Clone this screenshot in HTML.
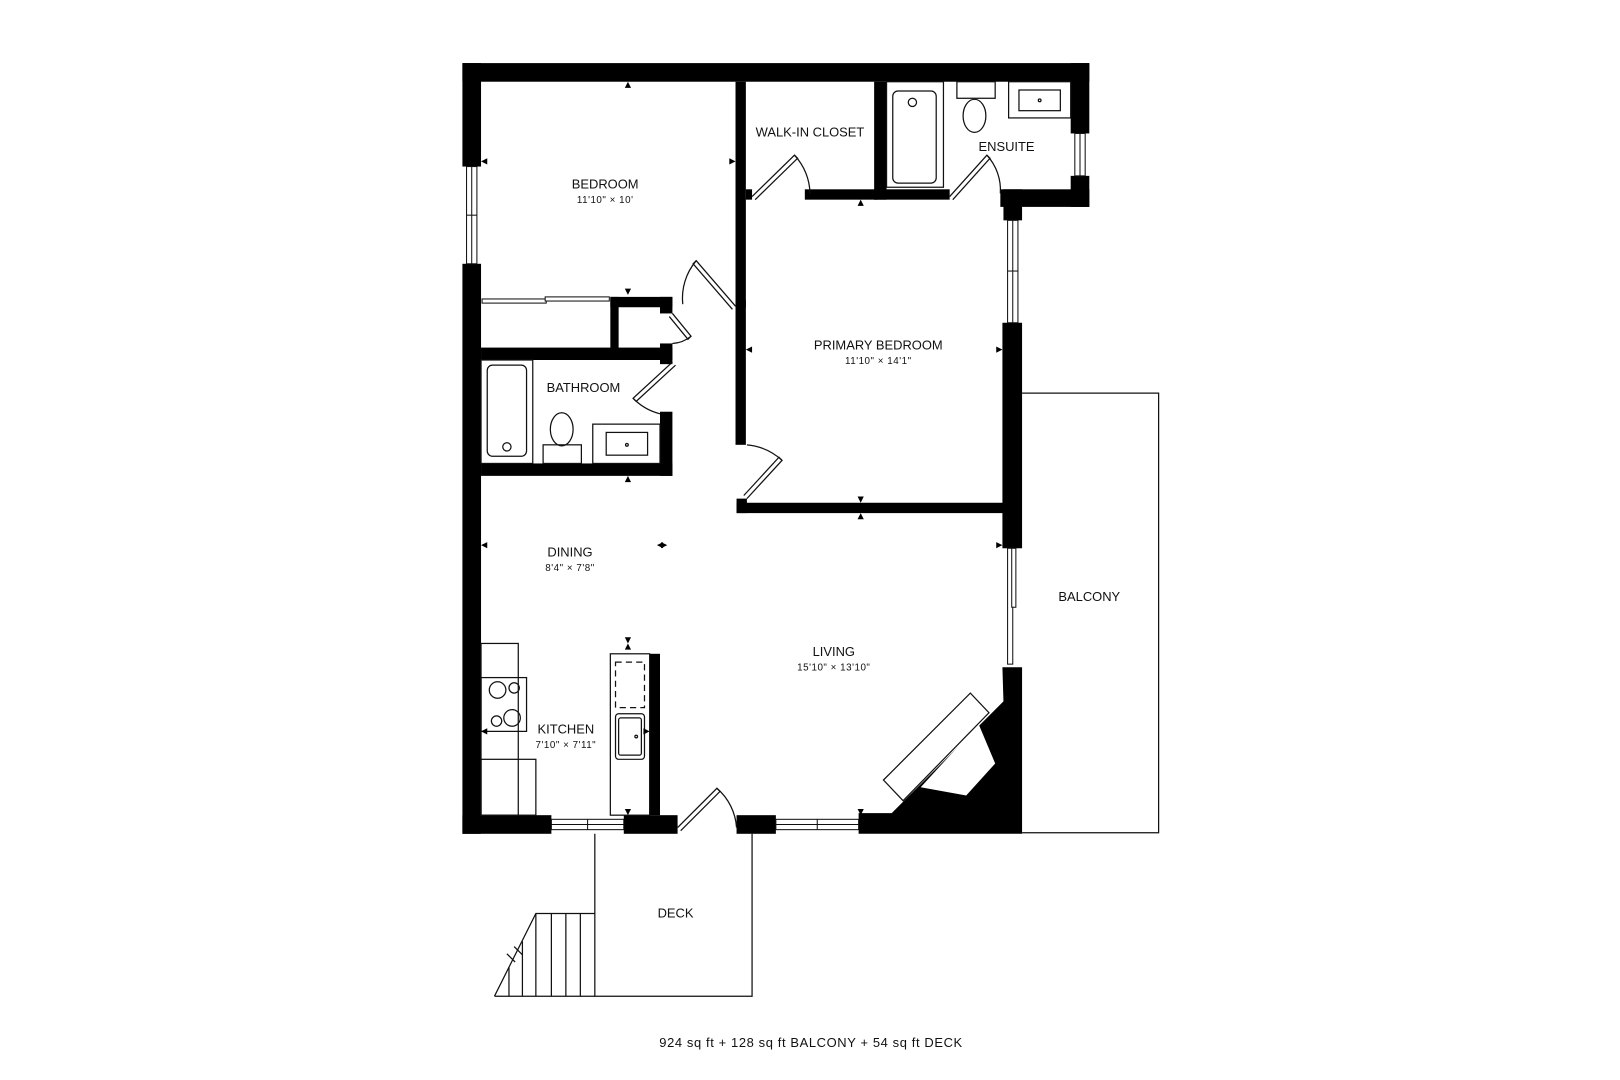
<!DOCTYPE html>
<html><head><meta charset="utf-8"><style>
html,body{margin:0;padding:0;background:#fff;}
svg{display:block;}
text{font-family:"Liberation Sans",sans-serif;fill:#111;text-anchor:middle;}
.l{font-size:12.5px;}
.d{font-size:9.5px;letter-spacing:0.5px;}
</style></head><body>
<svg width="1620" height="1080" viewBox="0 0 1566 1044" xmlns="http://www.w3.org/2000/svg">
<rect width="1566" height="1044" fill="#fff"/>
<g fill="none" stroke="#111" stroke-width="1.2">
<polyline points="988,380 1120,380 1120,805 988,805"/>
<polyline points="575,806 575,963 727,963 727,806"/>
<polyline points="478,963 575,963"/>
<polyline points="478,963 518,883 575,883"/>
<line x1="533" y1="883" x2="533" y2="963"/><line x1="547" y1="883" x2="547" y2="963"/><line x1="561" y1="883" x2="561" y2="963"/>
<line x1="518" y1="883" x2="518" y2="963"/><line x1="505" y1="910" x2="505" y2="963"/><line x1="492" y1="935" x2="492" y2="963"/>
<line x1="490" y1="922" x2="498" y2="930"/><line x1="497" y1="915" x2="505" y2="923"/>
</g>
<g fill="#000">
<rect x="447" y="61" width="606" height="18"/>
<rect x="447" y="61" width="18" height="100"/>
<rect x="447" y="255" width="18" height="551"/>
<rect x="1035" y="61" width="18" height="68"/>
<rect x="1035" y="170" width="18" height="30"/>
<rect x="967" y="183" width="86" height="17"/>
<rect x="970" y="183" width="18" height="30"/>
<rect x="969" y="312" width="19" height="218"/>
<rect x="447" y="788" width="86" height="18"/>
<rect x="603" y="788" width="52" height="18"/>
<rect x="712" y="788" width="38" height="18"/>
<polygon points="969,645 988,645 988,806 830,806 830,786 862,786 970,678"/>
<rect x="711" y="79" width="10" height="218"/>
<rect x="711" y="290" width="10" height="140"/>
<rect x="712" y="486" width="258" height="10"/>
<rect x="712" y="482" width="10" height="14"/>
<rect x="778" y="183" width="70" height="10"/>
<rect x="845" y="79" width="12" height="114"/>
<rect x="845" y="183" width="73" height="10"/>
<rect x="721" y="183" width="6" height="10"/>
<rect x="590" y="287" width="60" height="10"/>
<rect x="590" y="287" width="8" height="53"/>
<rect x="638" y="287" width="12" height="16"/>
<rect x="465" y="336" width="185" height="12"/>
<rect x="638" y="332" width="12" height="20"/>
<rect x="638" y="398" width="12" height="62"/>
<rect x="465" y="448" width="185" height="12"/>
<rect x="628" y="632" width="10" height="156"/>
</g>
<polygon points="890,761 934,769 962,738 946,700" fill="#fff"/>
<polygon points="854,754 938,670 956,689 873,774" fill="#fff" stroke="#111" stroke-width="1.2"/>
<g fill="#fff" stroke="#111" stroke-width="1">
<rect x="451" y="161" width="10" height="94"/><line x1="451" y1="208" x2="461" y2="208"/><line x1="456" y1="161" x2="456" y2="255"/>
<rect x="1039" y="129" width="10" height="41"/><line x1="1044" y1="129" x2="1044" y2="170"/>
<rect x="974" y="213" width="10" height="99"/><line x1="979" y1="213" x2="979" y2="312"/><line x1="974" y1="262" x2="984" y2="262"/>
<rect x="533" y="792" width="70" height="10"/><line x1="533" y1="797" x2="603" y2="797"/><line x1="568" y1="792" x2="568" y2="802"/>
<rect x="750" y="792" width="80" height="10"/><line x1="750" y1="797" x2="830" y2="797"/><line x1="790" y1="792" x2="790" y2="802"/>
<rect x="974" y="530" width="5" height="112"/><rect x="978" y="530" width="4" height="57"/>
<rect x="466" y="289" width="62" height="4"/><rect x="527" y="287" width="62" height="4"/>
</g>
<g fill="none" stroke="#111" stroke-width="1.2">
<polyline points="727,190 768,150 771,153 730,193"/><path d="M768,150 A56,56 0 0 1 783,187"/>
<polyline points="918,190 954,150 957,153 921,193"/><path d="M954,150 A50,50 0 0 1 967,187"/>
<polyline points="711,296 673,252 670,255 708,299"/><path d="M673,252 A56,56 0 0 0 660,294"/>
<polyline points="650,303 668,325 665,328 647,306"/><path d="M668,325 A30,30 0 0 1 650,332"/>
<polyline points="650,350 612,385 615,388 653,353"/><path d="M612,385 A55,55 0 0 0 638,400"/>
<polyline points="722,482 756,445 753,442 719,479"/><path d="M722,430 A58,58 0 0 1 756,445"/>
<polyline points="655,800 693,762 696,765 658,803"/><path d="M693,762 A55,55 0 0 1 712,800"/>
</g>
<g fill="none" stroke="#111" stroke-width="1.2">
<rect x="857" y="79" width="55" height="102"/><rect x="863" y="88" width="42" height="89" rx="5"/><circle cx="882" cy="99" r="4"/>
<rect x="925" y="79" width="37" height="16"/><ellipse cx="942" cy="112" rx="11" ry="16"/>
<rect x="975" y="79" width="60" height="35"/><rect x="985" y="87" width="40" height="20"/><circle cx="1005" cy="97" r="1.3"/>
<rect x="465" y="348" width="50" height="100"/><rect x="471" y="353" width="38" height="88" rx="5"/><circle cx="490" cy="432" r="4"/>
<ellipse cx="543" cy="415" rx="11" ry="16"/><rect x="525" y="430" width="37" height="18"/>
<rect x="573" y="410" width="65" height="38"/><rect x="586" y="418" width="40" height="22"/><circle cx="606" cy="430" r="1.3"/>
<rect x="465" y="622" width="36" height="166"/><rect x="465" y="655" width="44" height="52"/>
<circle cx="481" cy="667" r="8"/><circle cx="497" cy="665" r="5"/><circle cx="480" cy="697" r="5"/><circle cx="495" cy="694" r="8"/>
<rect x="465" y="734" width="53" height="54"/>
<rect x="590" y="632" width="38" height="156"/>
<rect x="595" y="640" width="28" height="44" stroke-dasharray="6,4"/>
<rect x="595" y="690" width="28" height="44" rx="3"/><rect x="598" y="694" width="22" height="36" rx="2"/><circle cx="615" cy="712" r="1.3"/>
</g>
<g fill="#000">
<polygon points="607,79 604,85 610,85"/><polygon points="607,285 604,279 610,279"/>
<polygon points="465,156 471,153 471,159"/><polygon points="711,156 705,153 705,159"/>
<polygon points="832,193 829,199 835,199"/><polygon points="832,486 829,480 835,480"/>
<polygon points="721,338 727,335 727,341"/><polygon points="969,338 963,335 963,341"/>
<polygon points="607,460 604,466 610,466"/>
<polygon points="465,527 471,524 471,530"/><polygon points="645,527 639,524 639,530"/><polygon points="635,527 641,524 641,530"/>
<polygon points="832,496 829,502 835,502"/><polygon points="969,527 963,524 963,530"/>
<polygon points="832,788 829,782 835,782"/>
<polygon points="607,622 604,616 610,616"/><polygon points="607,622 604,628 610,628"/><polygon points="607,788 604,782 610,782"/>
<polygon points="465,707 471,704 471,710"/><polygon points="628,707 622,704 622,710"/>
</g>
<text class="l" x="585" y="182">BEDROOM</text><text class="d" x="585" y="196">11'10" × 10'</text>
<text class="l" x="783" y="132">WALK-IN CLOSET</text>
<text class="l" x="973" y="146">ENSUITE</text>
<text class="l" x="849" y="338">PRIMARY BEDROOM</text><text class="d" x="849" y="352">11'10" × 14'1"</text>
<text class="l" x="564" y="379">BATHROOM</text>
<text class="l" x="551" y="538">DINING</text><text class="d" x="551" y="552">8'4" × 7'8"</text>
<text class="l" x="806" y="634">LIVING</text><text class="d" x="806" y="648">15'10" × 13'10"</text>
<text class="l" x="547" y="709">KITCHEN</text><text class="d" x="547" y="723">7'10" × 7'11"</text>
<text class="l" x="1053" y="581">BALCONY</text>
<text class="l" x="653" y="887">DECK</text>
<text x="784" y="1012" style="font-size:12.5px;letter-spacing:0.6px">924 sq ft + 128 sq ft BALCONY + 54 sq ft DECK</text>
</svg>
</body></html>
